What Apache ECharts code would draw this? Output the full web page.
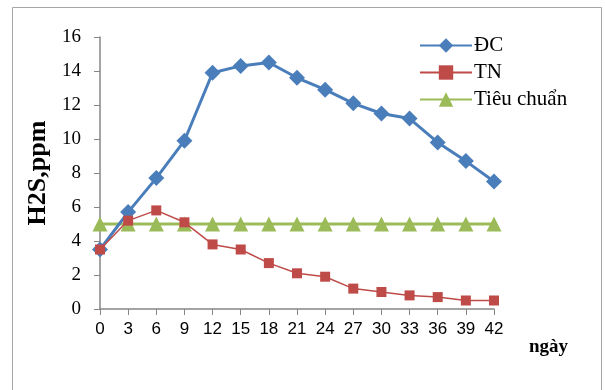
<!DOCTYPE html>
<html><head><meta charset="utf-8">
<script src="https://cdn.jsdelivr.net/npm/echarts@6/dist/echarts.min.js"></script>
<style>html,body{margin:0;padding:0;background:#fff}#c{width:605px;height:390px}</style>
</head><body><div id="c"></div>
<script>
const days = ['0','3','6','9','12','15','18','21','24','27','30','33','36','39','42'];
const dc = [3.5,5.7,7.7,9.9,13.9,14.3,14.5,13.6,12.9,12.1,11.5,11.2,9.8,8.7,7.5];
const tn = [3.5,5.2,5.8,5.1,3.8,3.5,2.7,2.1,1.9,1.2,1.0,0.8,0.7,0.5,0.5];
const tc = [5,5,5,5,5,5,5,5,5,5,5,5,5,5,5];
const yTicks = [0,2,4,6,8,10,12,14,16];

const chart = echarts.init(document.getElementById('c'));
const serif = '"Liberation Serif","Times New Roman",serif';
chart.setOption({
  animation:false,
  backgroundColor:'#fff',
  graphic:[
    {type:'rect',shape:{x:12.5,y:7.5,width:589,height:400},style:{fill:'none',stroke:'#a6a6a6',lineWidth:1},silent:true},
    {type:'text',left:529,top:338,style:{text:'ngày',font:'bold 19px '+serif,fill:'#000'}}
  ],
  legend:{
    left:414,top:30,orient:'vertical',itemGap:6,itemWidth:52,itemHeight:18,
    textStyle:{fontFamily:serif,fontSize:21,color:'#000',padding:[0,0,0,-3]},
    data:['ĐC','TN','Tiêu chuẩn']
  },
  grid:{left:100,right:111,top:37,bottom:81},
  xAxis:{
    type:'category',data:days,boundaryGap:false,
    axisLine:{lineStyle:{color:'#868686',width:1.5}},
    axisTick:{alignWithLabel:true,length:6,lineStyle:{color:'#868686'}},
    axisLabel:{color:'#000',fontFamily:'"Liberation Sans",Arial,sans-serif',fontSize:17,margin:12,interval:0}
  },
  yAxis:{
    type:'value',min:yTicks[0],max:yTicks[yTicks.length-1],interval:2,
    name:'H2S,ppm',nameLocation:'middle',nameGap:48,
    nameTextStyle:{fontFamily:serif,fontWeight:'bold',fontSize:26,color:'#000'},
    axisLine:{show:true,lineStyle:{color:'#868686',width:1.5}},
    axisTick:{show:true,length:6,lineStyle:{color:'#868686'}},
    splitLine:{show:false},
    axisLabel:{color:'#000',fontFamily:serif,fontSize:19,margin:19}
  },
  series:[
    {name:'ĐC',type:'line',data:dc,symbol:'diamond',symbolSize:16,
     lineStyle:{color:'#4a7ebb',width:3},itemStyle:{color:'#4a7ebb'},z:3},
    {name:'TN',type:'line',data:tn,symbol:'rect',symbolSize:10,
     lineStyle:{color:'#be4b48',width:1.5},itemStyle:{color:'#be4b48'},z:4},
    {name:'Tiêu chuẩn',type:'line',data:tc,symbol:'triangle',symbolSize:15,
     lineStyle:{color:'#9bbb59',width:3},itemStyle:{color:'#9bbb59'},z:2}
  ]
});
</script></body></html>
